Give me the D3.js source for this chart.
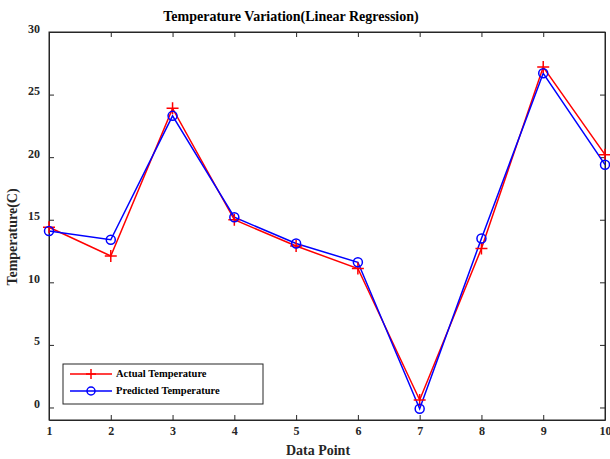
<!DOCTYPE html>
<html>
<head>
<meta charset="utf-8">
<script src="https://cdn.jsdelivr.net/npm/d3@7"></script>
<style>
  html, body { margin: 0; padding: 0; background: #fff; }
  svg { display: block; font-family: "Liberation Serif", "Times New Roman", serif; font-weight: bold; }
</style>
</head>
<body>
<svg id="chart" width="610" height="459"></svg>
<script>
// Data points 1..10
const points = [1, 2, 3, 4, 5, 6, 7, 8, 9, 10];
const actualTemp = [14.4, 12.1, 23.9, 15.0, 12.9, 11.1, 0.6, 12.7, 27.2, 20.2];
const predictedTemp = [14.1, 13.4, 23.3, 15.2, 13.1, 11.6, -0.1, 13.5, 26.7, 19.4];
const yTicks = [0, 5, 10, 15, 20, 25, 30];
const xTicks = [1, 2, 3, 4, 5, 6, 7, 8, 9, 10];

const svg = d3.select("#chart");
const plotLeft = 49, plotRight = 605, plotTop = 32, plotBottom = 420;

const x = d3.scaleLinear().domain([1, 10]).range([plotLeft, plotRight]);
const y = d3.scaleLinear().domain([-1, 30]).range([plotBottom, plotTop]);

const axisColor = "#262626";

// Frame
svg.append("rect")
  .attr("x", plotLeft).attr("y", plotTop)
  .attr("width", plotRight - plotLeft).attr("height", plotBottom - plotTop)
  .attr("fill", "none").attr("stroke", axisColor).attr("stroke-width", 1);

// Bottom axis (ticks pointing inward)
const xAxis = svg.append("g").attr("transform", `translate(0,${plotBottom})`)
  .call(d3.axisBottom(x).tickValues(xTicks).tickSizeInner(-5).tickSizeOuter(0).tickPadding(6));
// Top ticks
const xTop = svg.append("g").attr("transform", `translate(0,${plotTop})`)
  .call(d3.axisTop(x).tickValues(xTicks).tickSizeInner(-5).tickSizeOuter(0).tickFormat(""));
// Left axis
const yAxis = svg.append("g").attr("transform", `translate(${plotLeft},0)`)
  .call(d3.axisLeft(y).tickValues(yTicks).tickSizeInner(-5).tickSizeOuter(0).tickPadding(9));
// Right ticks
const yRight = svg.append("g").attr("transform", `translate(${plotRight},0)`)
  .call(d3.axisRight(y).tickValues(yTicks).tickSizeInner(-5).tickSizeOuter(0).tickFormat(""));

[xAxis, xTop, yAxis, yRight].forEach(g => {
  g.select(".domain").attr("stroke", axisColor);
  g.selectAll(".tick line").attr("stroke", axisColor);
  g.selectAll(".tick text")
    .attr("fill", axisColor)
    .style("font-family", '"Liberation Serif", serif')
    .style("font-weight", "bold")
    .style("font-size", "12px");
});
yAxis.selectAll(".tick text").attr("dy", "0em");

// Series lines
const line = d3.line().x((d, i) => x(points[i])).y(d => y(d));

svg.append("path").datum(actualTemp)
  .attr("d", line).attr("fill", "none")
  .attr("stroke", "#ff0000").attr("stroke-width", 1.5);

svg.append("path").datum(predictedTemp)
  .attr("d", line).attr("fill", "none")
  .attr("stroke", "#0000ff").attr("stroke-width", 1.5);

// Markers
const plus = (g, cx, cy, s) => g.append("path")
  .attr("d", `M${cx - s},${cy}H${cx + s}M${cx},${cy - s}V${cy + s}`)
  .attr("stroke", "#ff0000").attr("stroke-width", 1.5).attr("fill", "none");
const circ = (g, cx, cy, r) => g.append("circle")
  .attr("cx", cx).attr("cy", cy).attr("r", r)
  .attr("stroke", "#0000ff").attr("stroke-width", 1.5).attr("fill", "none");

const mk = svg.append("g");
actualTemp.forEach((v, i) => plus(mk, x(points[i]), y(v), 6));
predictedTemp.forEach((v, i) => circ(mk, x(points[i]), y(v), 4.5));

// Title and axis labels
svg.append("text").attr("x", 291).attr("y", 21)
  .attr("text-anchor", "middle").attr("font-size", "14px").attr("fill", "#000")
  .text("Temperature Variation(Linear Regression)");

svg.append("text").attr("x", 318).attr("y", 455)
  .attr("text-anchor", "middle").attr("font-size", "14px").attr("fill", axisColor)
  .text("Data Point");

svg.append("text")
  .attr("transform", "translate(17,237) rotate(-90)")
  .attr("text-anchor", "middle").attr("font-size", "14px").attr("fill", axisColor)
  .text("Temperature(C)");

// Legend
const legend = svg.append("g");
legend.append("rect")
  .attr("x", 63).attr("y", 364).attr("width", 200).attr("height", 40)
  .attr("fill", "#fff").attr("stroke", axisColor).attr("stroke-width", 1);

const legendItems = [
  { label: "Actual Temperature", color: "#ff0000", kind: "plus", yy: 374 },
  { label: "Predicted Temperature", color: "#0000ff", kind: "circle", yy: 391 }
];
legendItems.forEach(it => {
  legend.append("line").attr("x1", 70).attr("x2", 112)
    .attr("y1", it.yy).attr("y2", it.yy)
    .attr("stroke", it.color).attr("stroke-width", 1.5);
  if (it.kind === "plus") plus(legend, 91, it.yy, 5);
  else circ(legend, 91, it.yy, 4);
  legend.append("text").attr("x", 116).attr("y", it.yy + 3)
    .attr("font-size", "10.5px").attr("fill", "#000").text(it.label);
});
</script>
</body>
</html>
